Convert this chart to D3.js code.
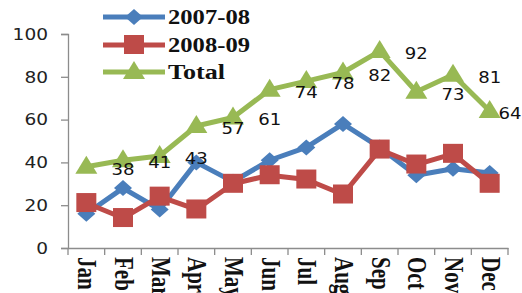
<!DOCTYPE html>
<html><head><meta charset="utf-8">
<script src="https://cdn.jsdelivr.net/npm/d3@7"></script>
<style>html,body{margin:0;padding:0;background:#fff;overflow:hidden}</style>
</head><body>
<svg id="c" width="522" height="293"></svg>
<script>
const months = ["Jan","Feb","Mar","Apr","May","Jun","Jul","Aug","Sep","Oct","Nov","Dec"];
const s2007 = [16, 28, 18, 40, 31, 41, 47, 58, 47, 34, 37, 35];
const s2008 = [21, 14, 24, 18, 30, 34, 32, 25, 46, 39, 44, 30];
const total = [38, 41, 43, 57, 61, 74, 78, 82, 92, 73, 81, 64];
const seriesNames = ["2007-08", "2008-09", "Total"];
const yTicks = [0, 20, 40, 60, 80, 100];

const W = 522, H = 293;
const svg = d3.select("#c");
const x = d3.scaleBand().domain(months).range([68, 508]);
const y = d3.scaleLinear().domain([0, 100]).range([248, 34]);
const axisColor = "#8c8c8c";

// Y axis
const ya = svg.append("g").attr("transform", "translate(68,0)")
  .call(d3.axisLeft(y).tickValues(yTicks).tickSize(7).tickPadding(20));
ya.select(".domain").attr("stroke", axisColor).attr("stroke-width", 1.3);
ya.selectAll(".tick line").attr("stroke", axisColor).attr("stroke-width", 1.3);
ya.selectAll(".tick text").attr("font-family", "DejaVu Sans").attr("font-size", 15)
  .attr("fill", "#222").attr("x", -20).attr("dy", "0.35em")
  .attr("textLength", d => String(d).length * 11.8).attr("lengthAdjust", "spacingAndGlyphs");

// X axis
const xa = svg.append("g").attr("transform", "translate(0,248)")
  .call(d3.axisBottom(x).tickSize(0).tickFormat(""));
xa.select(".domain").attr("stroke", axisColor).attr("stroke-width", 1.3);
const bounds = d3.range(13).map(i => 68 + i * x.step());
svg.append("g").selectAll("line").data(bounds).join("line")
  .attr("x1", d => d).attr("x2", d => d).attr("y1", 248).attr("y2", 255)
  .attr("stroke", axisColor).attr("stroke-width", 1.3);
svg.append("g").selectAll("text").data(months).join("text")
  .attr("transform", d => `translate(${x(d) + x.bandwidth() / 2 - 8},257) rotate(90) scale(1,1.3)`)
  .attr("font-family", "Liberation Serif").attr("font-weight", "bold").attr("font-size", 21)
  .attr("fill", "#111")
  .text(d => d);

const cx = (d, i) => x(months[i]) + x.bandwidth() / 2;
const colors = ["#4a7ebb", "#be4b48", "#98b954"];
const line = d3.line().x((d, i) => cx(d, i)).y(d => y(d));

function marker(g, type, color) {
  if (type === 0) return g.append("path").attr("d", "M0,-8 L9,0 L0,8 L-9,0 Z").attr("fill", color);
  if (type === 1) return g.append("rect").attr("x", -10).attr("y", -10).attr("width", 20).attr("height", 19).attr("fill", color);
  return g.append("path").attr("d", "M0,-11 L11,7 L-11,7 Z").attr("fill", color);
}

[s2007, s2008, total].forEach((data, si) => {
  svg.append("path").datum(data).attr("d", line)
    .attr("fill", "none").attr("stroke", colors[si]).attr("stroke-width", 5)
    .attr("stroke-linejoin", "round");
  data.forEach((v, i) => {
    const g = svg.append("g").attr("transform", `translate(${cx(v, i)},${y(v)})`);
    marker(g, si, colors[si]);
  });
});

// Data labels for total
svg.append("g").selectAll("text").data(total).join("text")
  .attr("x", (d, i) => Math.min(cx(d, i) + x.step(), W - 12))
  .attr("y", (d, i) => y(d) + 8)
  .attr("text-anchor", "middle")
  .attr("font-family", "DejaVu Sans").attr("font-size", 16).attr("fill", "#111")
  .attr("textLength", 23).attr("lengthAdjust", "spacingAndGlyphs")
  .text(d => d);

// Legend
const legY = [17, 45, 72];
const legW = [82, 82, 57];
seriesNames.forEach((n, i) => {
  svg.append("line").attr("x1", 103).attr("x2", 165).attr("y1", legY[i]).attr("y2", legY[i])
    .attr("stroke", colors[i]).attr("stroke-width", 5);
  const g = svg.append("g").attr("transform", `translate(134,${legY[i]})`);
  marker(g, i, colors[i]);
  svg.append("text").attr("x", 168).attr("y", legY[i] + 7)
    .attr("font-family", "Liberation Serif").attr("font-weight", "bold").attr("font-size", 20)
    .attr("fill", "#111").attr("textLength", legW[i]).attr("lengthAdjust", "spacingAndGlyphs")
    .text(n);
});
</script>
</body></html>
